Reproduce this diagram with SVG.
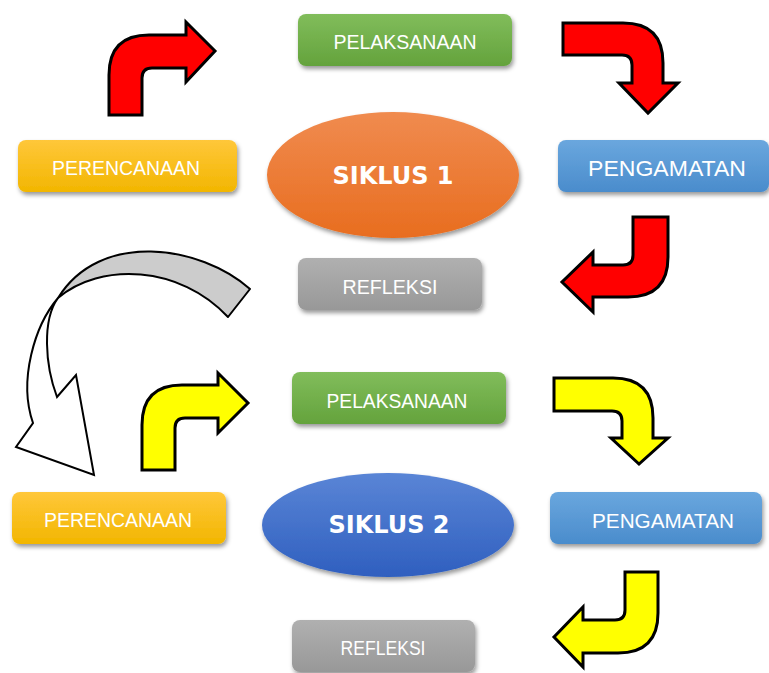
<svg xmlns="http://www.w3.org/2000/svg" width="769" height="673" viewBox="0 0 769 673">
<defs>
<linearGradient id="gGreen" x1="0" y1="0" x2="0" y2="1"><stop offset="0" stop-color="#81bd5b"/><stop offset="1" stop-color="#64a33c"/></linearGradient>
<linearGradient id="gYellow" x1="0" y1="0" x2="0" y2="1"><stop offset="0" stop-color="#ffc73a"/><stop offset="1" stop-color="#f2b600"/></linearGradient>
<linearGradient id="gBlue" x1="0" y1="0" x2="0" y2="1"><stop offset="0" stop-color="#6aa7de"/><stop offset="1" stop-color="#4a8ccc"/></linearGradient>
<linearGradient id="gGray" x1="0" y1="0" x2="0" y2="1"><stop offset="0" stop-color="#b0b0b0"/><stop offset="1" stop-color="#989898"/></linearGradient>
<linearGradient id="gOrange" x1="0" y1="0" x2="0" y2="1"><stop offset="0" stop-color="#f08b4f"/><stop offset="1" stop-color="#e86d1f"/></linearGradient>
<linearGradient id="gDBlue" x1="0" y1="0" x2="0" y2="1"><stop offset="0" stop-color="#5a85d6"/><stop offset="1" stop-color="#2f5fbf"/></linearGradient>
<filter id="sh" x="-10%" y="-20%" width="125%" height="160%"><feDropShadow dx="1.5" dy="3" stdDeviation="2" flood-color="#000" flood-opacity="0.4"/></filter>
</defs>
<style>
.box{filter:url(#sh)}
.lbl{font-family:"Liberation Sans",Arial,sans-serif;font-size:20.5px;fill:#fff;text-anchor:middle;dominant-baseline:central}
.big{font-family:"DejaVu Sans",sans-serif;font-weight:bold;font-size:24px;fill:#fff;text-anchor:middle;dominant-baseline:central}
.red{fill:#ff0000;stroke:#000;stroke-width:3;stroke-linejoin:miter}
.yel{fill:#ffff00;stroke:#000;stroke-width:3;stroke-linejoin:miter}
</style>
<g id="connectors">
<path class="red" d="M109,115 L109,75 Q109,35 149,35 L186,35 L186,22 L215,51 L186,82 L186,68 L152,68 Q142,68 142,78 L142,115 Z"/>
<path class="red" d="M563,23 L623,23 Q663,23 663,63 L663,83 L678,83 L648,113 L619,83 L632,83 L632,65 Q632,55 622,55 L563,55 Z"/>
<path class="red" d="M633,217 L668,217 L668,257 Q668,297 628,297 L593,297 L593,312 L562,282 L593,252 L593,265 L623,265 Q633,265 633,255 Z"/>
<path d="M250,289 C200,245 100,230 58,298 C100,262 180,265 228,317 Z" fill="#cccccc" stroke="#000" stroke-width="2" stroke-linejoin="round"/>
<path d="M58,298 C35,325 18,380 33,423 L16,447 L94,475 L76,375 L57,397 C45,365 42,320 58,298 Z" fill="#fff" stroke="#000" stroke-width="2"/>
<path class="yel" d="M142,470 L142,425 Q142,385 182,385 L218,385 L218,373 L248,403 L218,433 L218,418 L185,418 Q175,418 175,428 L175,470 Z"/>
<path class="yel" d="M554,378 L613,378 Q653,378 653,418 L653,438 L668,438 L639,464 L611,438 L622,438 L622,421 Q622,411 612,411 L554,411 Z"/>
<path class="yel" d="M625,572 L658,572 L658,613 Q658,653 618,653 L583,653 L583,667 L554,637 L583,607 L583,620 L615,620 Q625,620 625,610 Z"/>
</g>
<g id="pelaksanaan1"><rect class="box" x="298" y="14" width="214" height="52" rx="8" fill="url(#gGreen)"/><text class="lbl" x="405" y="41" textLength="143" lengthAdjust="spacingAndGlyphs">PELAKSANAAN</text></g>
<g id="perencanaan1"><rect class="box" x="18" y="140" width="219" height="52" rx="8" fill="url(#gYellow)"/><text class="lbl" x="126" y="167" textLength="148" lengthAdjust="spacingAndGlyphs">PERENCANAAN</text></g>
<g id="siklus1"><ellipse class="box" cx="393" cy="175" rx="126" ry="63" fill="url(#gOrange)"/><text class="big" x="393" y="176">SIKLUS 1</text></g>
<g id="pengamatan1"><rect class="box" x="558" y="140" width="211" height="52" rx="8" fill="url(#gBlue)"/><text class="lbl" x="667" y="168" style="font-size:22px" textLength="158" lengthAdjust="spacingAndGlyphs">PENGAMATAN</text></g>
<g id="refleksi1"><rect class="box" x="298" y="258" width="184" height="52" rx="8" fill="url(#gGray)"/><text class="lbl" x="390" y="286" textLength="95" lengthAdjust="spacingAndGlyphs">REFLEKSI</text></g>
<g id="pelaksanaan2"><rect class="box" x="292" y="372" width="214" height="52" rx="8" fill="url(#gGreen)"/><text class="lbl" x="397" y="400" textLength="141" lengthAdjust="spacingAndGlyphs">PELAKSANAAN</text></g>
<g id="perencanaan2"><rect class="box" x="12" y="492" width="214" height="52" rx="8" fill="url(#gYellow)"/><text class="lbl" x="118" y="519" textLength="148" lengthAdjust="spacingAndGlyphs">PERENCANAAN</text></g>
<g id="siklus2"><ellipse class="box" cx="388" cy="525" rx="126" ry="52" fill="url(#gDBlue)"/><text class="big" x="389" y="525">SIKLUS 2</text></g>
<g id="pengamatan2"><rect class="box" x="550" y="492" width="212" height="52" rx="8" fill="url(#gBlue)"/><text class="lbl" x="663" y="520" textLength="142" lengthAdjust="spacingAndGlyphs">PENGAMATAN</text></g>
<g id="refleksi2"><rect class="box" x="292" y="620" width="183" height="52" rx="8" fill="url(#gGray)"/><text class="lbl" x="383" y="647" textLength="85" lengthAdjust="spacingAndGlyphs">REFLEKSI</text></g>
</svg>
